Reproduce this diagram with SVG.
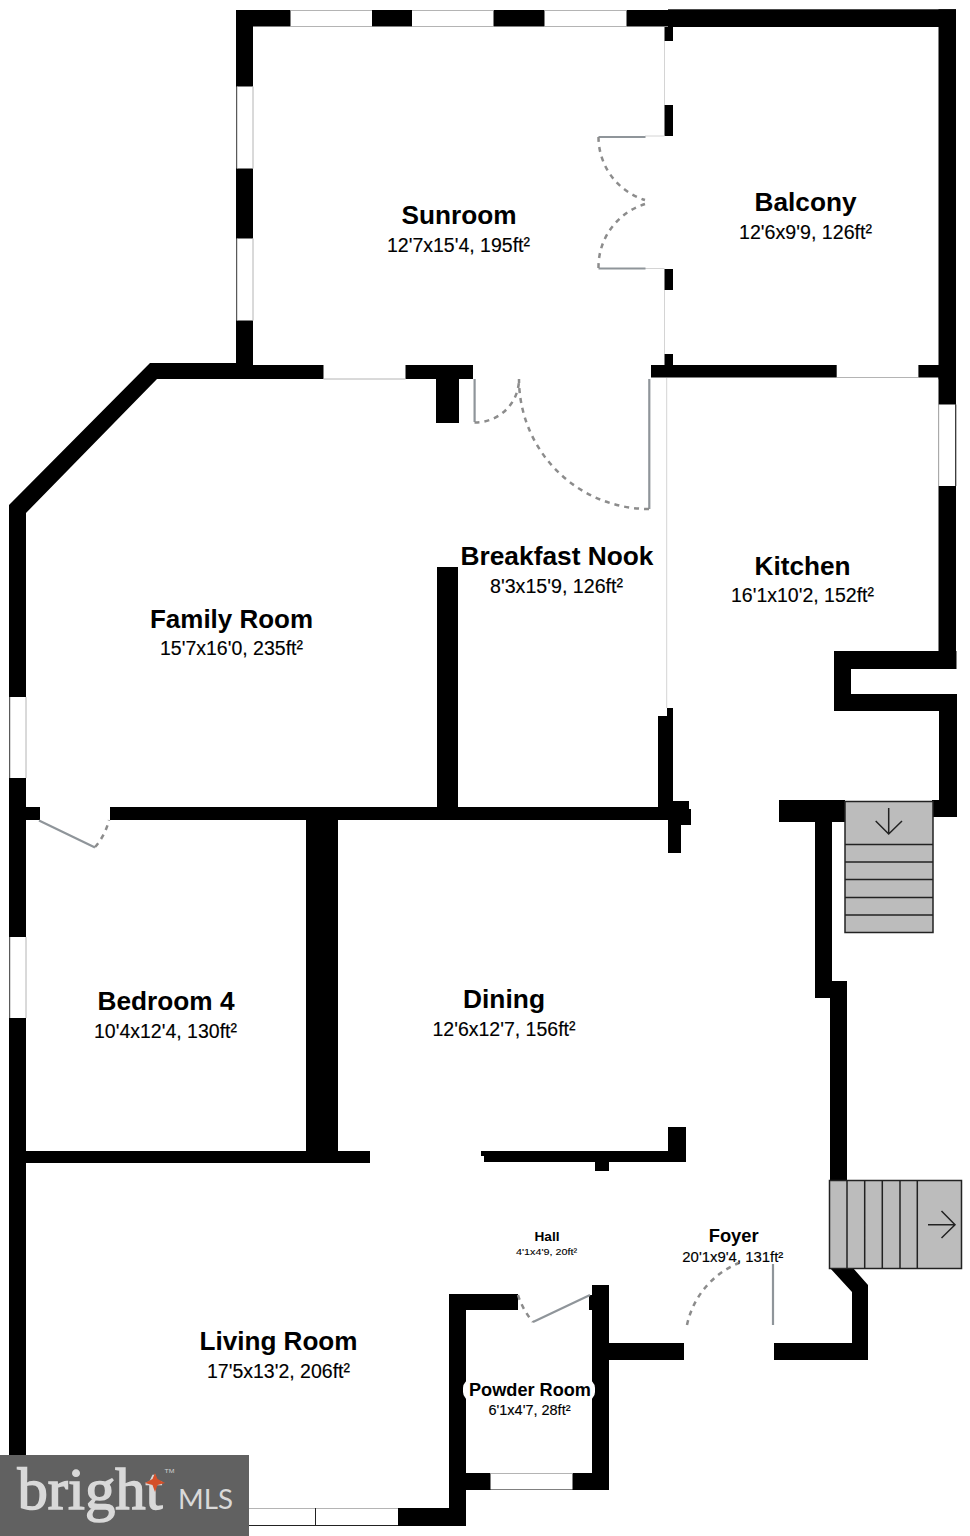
<svg xmlns="http://www.w3.org/2000/svg" width="970" height="1536" viewBox="0 0 970 1536">
<style>
.w{fill:#000}
.win{fill:#fff}
.edge{stroke:#b4b4b4;stroke-width:1;fill:none}
.thin{stroke:#d4d4d4;stroke-width:1;fill:none}
.leaf{stroke:#8f959a;stroke-width:2.2;fill:none}
.swing{stroke:#8c8c8c;stroke-width:2.5;fill:none;stroke-dasharray:5 5}
.st{fill:#bcbcbc;stroke:#222;stroke-width:1.5}
.ln{stroke:#222;stroke-width:1.5;fill:none}
text{font-family:"Liberation Sans",Arial,sans-serif;text-anchor:middle;fill:#000}
.n{font-weight:700;font-size:26px}
.d{font-size:20px;stroke:#000;stroke-width:.15}
</style>
<rect width="970" height="1536" fill="#fff"/>
<g id="walls">
<rect class="w" x="236" y="10" width="445" height="16.500"/>
<rect class="w" x="668" y="9.300" width="288" height="17.700"/>
<rect class="w" x="236" y="10" width="17" height="360"/>
<rect class="w" x="938.500" y="9.300" width="17.500" height="370"/>
<rect class="w" x="664.500" y="27" width="8.500" height="14"/>
<rect class="w" x="664.500" y="105" width="8.500" height="31"/>
<rect class="w" x="664.500" y="269" width="8.500" height="21"/>
<rect class="w" x="664.500" y="354" width="8.500" height="14"/>
<polygon class="w" points="150,363 253,363 253,379 157,379 26,513 26,1460 9,1460 9,505"/>
<rect class="w" x="236" y="365" width="237" height="14"/>
<rect class="w" x="436" y="379" width="23" height="44"/>
<rect class="w" x="651" y="365" width="305" height="12.500"/>
<rect class="w" x="938.500" y="377" width="17.500" height="292"/>
<polygon class="w" points="834,651 956.500,651 956.500,669 851,669 851,694 957,694 957,817 932,817 932,800 845,800 845,822 832,822 832,981 847,981 847,1180 830,1180 830,998 815,998 815,822 779,822 779,800 939,800 939,711 834,711"/>
<rect class="w" x="437" y="567" width="21" height="240"/>
<rect class="w" x="26" y="807" width="14" height="13"/>
<rect class="w" x="110" y="807" width="550" height="13"/>
<polygon class="w" points="667,708 673,708 673,801 689,801 689,809 691,809 691,825 681,825 681,853 668,853 668,820 658,820 658,716 667,716"/>
<rect class="w" x="306" y="820" width="32" height="343"/>
<rect class="w" x="26" y="1151" width="344" height="12"/>
<polygon class="w" points="668,1127 686,1127 686,1162 609,1162 609,1171 595,1171 595,1162 484,1162 484,1156 481,1156 481,1151 668,1151"/>
<polygon class="w" points="830,1268 853,1268 868,1285 868,1360 774,1360 774,1343 852,1343 852,1292"/>
<rect class="w" x="398" y="1508" width="68" height="18"/>
<rect class="w" x="449" y="1294" width="17" height="232"/>
<rect class="w" x="449" y="1294" width="69" height="16"/>
<rect class="w" x="592" y="1285" width="17" height="205"/>
<rect class="w" x="589" y="1295" width="4" height="15"/>
<rect class="w" x="466" y="1473" width="143" height="17"/>
<rect class="w" x="609" y="1343" width="75" height="17"/>
</g>
<g id="windows">
<rect class="win" x="290.500" y="10" width="81.500" height="16.500"/>
<rect class="win" x="412" y="10" width="81.500" height="16.500"/>
<rect class="win" x="544.500" y="10" width="82" height="16.500"/>
<rect class="win" x="237" y="86.500" width="16" height="82"/>
<rect class="win" x="237" y="238.500" width="16" height="82"/>
<rect class="win" x="323.500" y="365" width="82" height="14"/>
<rect class="win" x="836.700" y="365" width="81.700" height="12.500"/>
<rect class="win" x="939" y="404.500" width="16.500" height="81.500"/>
<rect class="win" x="10" y="697" width="16" height="81"/>
<rect class="win" x="10" y="937" width="16" height="81"/>
<rect class="win" x="490.500" y="1473" width="82" height="16.500"/>
<rect class="win" x="249" y="1508.500" width="149" height="17"/>
<path class="edge" d="M290.500 10.500H372M412 10.500H493.500M544.500 10.500H626.500M290.500 26.500H372M412 26.500H493.500M544.500 26.500H626.500M237 86.500V168.500M237 238.500V320.500M253 86.500V168.500M253 238.500V320.500M323.500 379H405.500M836.700 377.500H918.400M938.700 404.500V486M26 697V778M26 937V1018M10 697V778M10 937V1018M490.500 1473.500H572.500M249 1508.500H398"/>
<path d="M249 1525.500H398M315.500 1508V1525M955.800 404.500V486" stroke="#222" fill="none"/>
</g>
<g id="connectors">
<path class="thin" d="M664.500 41V105M664.500 290V354M645 136H664.500M645 268.500H664.500M666.700 378V708"/>
<path class="leaf" d="M645.500 137H598.500M645.500 268.500H598.500M474.600 379V422M649.300 379V509M39 820.500L95 847.500M533 1322L590 1295M773 1264V1325"/>
<path class="swing" d="M598.500 137A66 66 0 0 0 645 200M598.500 268A66 66 0 0 1 645 204M474.500 422.500A44 44 0 0 0 519 379M649 509A130 130 0 0 1 519 379M95 847A62 62 0 0 0 109 820M518 1295C521 1305 527 1315 533 1322M687 1325A86 86 0 0 1 739 1263"/>
</g>
<g id="stairs-down">
<rect class="st" x="845" y="801.500" width="88" height="131"/>
<path class="ln" d="M845 844.500H933M845 862H933M845 879.500H933M845 897.500H933M845 915H933M888.700 808V834M875.700 821L888.700 834L902 821"/>
</g>
<g id="stairs-entry">
<rect class="st" x="829.500" y="1180.500" width="132" height="88"/>
<path class="ln" d="M847 1180V1268M864.700 1180V1268M882.300 1180V1268M900 1180V1268M917.300 1180V1268M928 1224.700H955M941.500 1211L955 1224.700L941.500 1238"/>
</g>
<g id="room-sunroom"><text class="n" x="459" y="224" textLength="115" lengthAdjust="spacingAndGlyphs">Sunroom</text><text class="d" x="458.500" y="252" textLength="143" lengthAdjust="spacingAndGlyphs">12'7x15'4, 195ft²</text></g>
<g id="room-balcony"><text class="n" x="805.500" y="211" textLength="102" lengthAdjust="spacingAndGlyphs">Balcony</text><text class="d" x="805.500" y="238.500" textLength="133" lengthAdjust="spacingAndGlyphs">12'6x9'9, 126ft²</text></g>
<g id="room-nook"><text class="n" x="557" y="565" textLength="193" lengthAdjust="spacingAndGlyphs">Breakfast Nook</text><text class="d" x="556.500" y="592.500" textLength="133" lengthAdjust="spacingAndGlyphs">8'3x15'9, 126ft²</text></g>
<g id="room-kitchen"><text class="n" x="802.500" y="575" textLength="96" lengthAdjust="spacingAndGlyphs">Kitchen</text><text class="d" x="802.500" y="601.500" textLength="143" lengthAdjust="spacingAndGlyphs">16'1x10'2, 152ft²</text></g>
<g id="room-family"><text class="n" x="231.500" y="628" textLength="163" lengthAdjust="spacingAndGlyphs">Family Room</text><text class="d" x="231.500" y="654.500" textLength="143" lengthAdjust="spacingAndGlyphs">15'7x16'0, 235ft²</text></g>
<g id="room-bedroom4"><text class="n" x="166" y="1010" textLength="137" lengthAdjust="spacingAndGlyphs">Bedroom 4</text><text class="d" x="165.500" y="1037.500" textLength="143" lengthAdjust="spacingAndGlyphs">10'4x12'4, 130ft²</text></g>
<g id="room-dining"><text class="n" x="504" y="1008" textLength="82" lengthAdjust="spacingAndGlyphs">Dining</text><text class="d" x="504" y="1035.500" textLength="143" lengthAdjust="spacingAndGlyphs">12'6x12'7, 156ft²</text></g>
<g id="room-living"><text class="n" x="278.500" y="1350" textLength="158" lengthAdjust="spacingAndGlyphs">Living Room</text><text class="d" x="278.500" y="1377.500" textLength="143" lengthAdjust="spacingAndGlyphs">17'5x13'2, 206ft²</text></g>
<g id="room-powder"><rect x="463" y="1379" width="132" height="22" rx="9" fill="#fff"/><text x="530" y="1396" font-size="18" font-weight="700" textLength="122" lengthAdjust="spacingAndGlyphs">Powder Room</text><text x="529.500" y="1415" font-size="14" stroke="#000" stroke-width=".15" textLength="82" lengthAdjust="spacingAndGlyphs">6'1x4'7, 28ft²</text></g>
<g id="room-hall"><text x="547" y="1241" font-size="12" font-weight="700" textLength="25" lengthAdjust="spacingAndGlyphs">Hall</text><text x="546.500" y="1255" font-size="9" stroke="#000" stroke-width=".1" textLength="61" lengthAdjust="spacingAndGlyphs">4'1x4'9, 20ft²</text></g>
<g id="room-foyer"><text x="733.700" y="1242" font-size="19" font-weight="700" textLength="50" lengthAdjust="spacingAndGlyphs">Foyer</text><text x="732.800" y="1262" font-size="14" stroke="#000" stroke-width=".15" textLength="101" lengthAdjust="spacingAndGlyphs">20'1x9'4, 131ft²</text></g>
<g id="watermark">
<rect x="0" y="1455" width="249" height="81" fill="#616161"/>
<text x="90" y="1509" font-size="60" textLength="145" lengthAdjust="spacingAndGlyphs" stroke="#d9d9d9" stroke-width="1.500" style="font-family:'Liberation Serif',serif;fill:#d9d9d9">bright</text>
<polygon points="155,1473 157.500,1479 165,1483 157.500,1485 155,1492 152.500,1485 145,1483 152.500,1479" fill="#d4502a"/>
<text x="169.500" y="1473" font-size="6" textLength="10" lengthAdjust="spacingAndGlyphs" style="fill:#cfcfcf">TM</text>
<text x="205.500" y="1509" font-size="26" textLength="55" lengthAdjust="spacingAndGlyphs" style="font-family:Lato,sans-serif;fill:#d9d9d9">MLS</text>
</g>
</svg>
